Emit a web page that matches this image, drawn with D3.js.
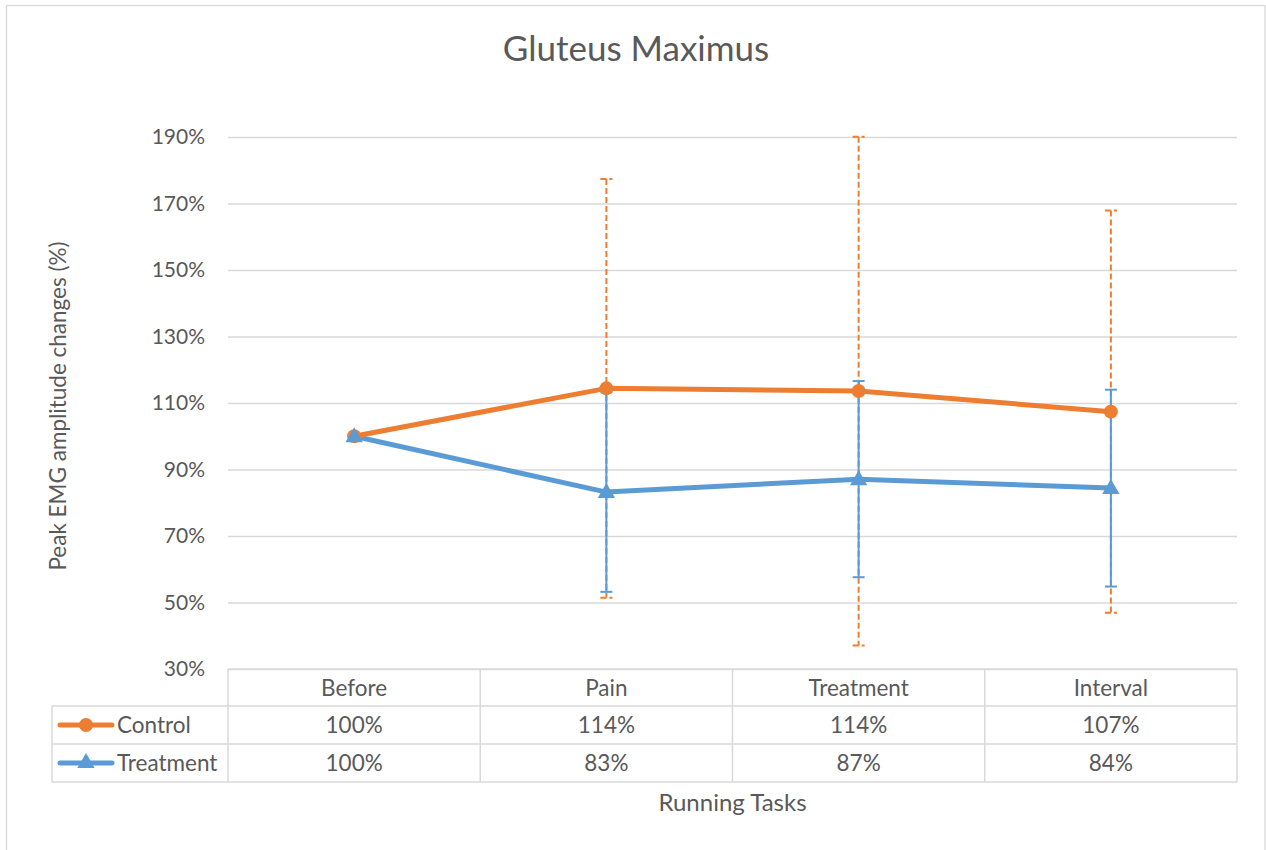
<!DOCTYPE html>
<html><head><meta charset="utf-8">
<script src="https://cdn.jsdelivr.net/npm/d3@7"></script>
<style>body{margin:0;background:#fff}svg{display:block}text{font-family:Lato,"Open Sans",sans-serif}</style>
</head><body><svg id="c" width="1266" height="850"></svg>
<script>
const categories = ["Before", "Pain", "Treatment", "Interval"];
const seriesNames = ["Control", "Treatment"];
const controlValues = [100, 114.4, 113.6, 107.4];
const treatmentValues = [100, 83.2, 87.1, 84.4];
const controlErrors = [0, 63, 76.5, 60.5];
const treatmentErrors = [0, 30, 29.5, 29.6];
const controlLabels = ["100%", "114%", "114%", "107%"];
const treatmentLabels = ["100%", "83%", "87%", "84%"];
const yTicks = [30, 50, 70, 90, 110, 130, 150, 170, 190];

const svg = d3.select("#c");
const L = 228, R = 1237, T = 137, B = 669;
const grid = "#d9d9d9", txt = "#595959";
const orange = "#ed7d31", blue = "#5b9bd5";

// outer border
svg.append("rect").attr("x", 6.5).attr("y", 5.5).attr("width", 1258.5).attr("height", 860)
  .attr("fill", "none").attr("stroke", grid).attr("stroke-width", 1.3);

const x = d3.scaleBand().domain(categories).range([L, R]);
const y = d3.scaleLinear().domain([30, 190]).range([B, T]);
const cx = c => x(c) + x.bandwidth() / 2;

// gridlines
const yAxis = d3.axisLeft(y).tickValues(yTicks).tickSize(-(R - L)).tickFormat(d => d + "%");
const ga = svg.append("g").attr("transform", `translate(${L},0)`).call(yAxis);
ga.select(".domain").remove();
ga.selectAll(".tick line").attr("stroke", grid).attr("stroke-width", 1.3);
ga.selectAll(".tick text").attr("x", -23).attr("fill", txt).attr("font-size", 21);

// title
svg.append("text").attr("x", 636).attr("y", 61).attr("text-anchor", "middle")
  .attr("fill", txt).attr("font-size", 35).text("Gluteus Maximus");

// y axis title
svg.append("text").attr("transform", `translate(66,${(T + B) / 2 + 3}) rotate(-90)`)
  .attr("text-anchor", "middle").attr("fill", txt).attr("font-size", 22.5)
  .text("Peak EMG  amplitude changes (%)");

// x axis title
svg.append("text").attr("x", (L + R) / 2).attr("y", 811).attr("text-anchor", "middle")
  .attr("fill", txt).attr("font-size", 24).text("Running Tasks");

// data table
const rowH = [669, 706, 744, 782];
const tbl = svg.append("g").attr("stroke", grid).attr("stroke-width", 1.5).attr("fill", "none");
tbl.append("line").attr("x1", L).attr("x2", R).attr("y1", rowH[0]).attr("y2", rowH[0]);
[1, 2, 3].forEach(i => tbl.append("line").attr("x1", 52).attr("x2", R).attr("y1", rowH[i]).attr("y2", rowH[i]));
tbl.append("line").attr("x1", 52).attr("x2", 52).attr("y1", rowH[1]).attr("y2", rowH[3]);
categories.forEach(c => tbl.append("line").attr("x1", x(c)).attr("x2", x(c)).attr("y1", rowH[0]).attr("y2", rowH[3]));
tbl.append("line").attr("x1", R).attr("x2", R).attr("y1", rowH[0]).attr("y2", rowH[3]);

const tf = 22.5;
categories.forEach(c => svg.append("text").attr("x", cx(c)).attr("y", 696).attr("text-anchor", "middle")
  .attr("fill", txt).attr("font-size", tf).text(c));
[controlLabels, treatmentLabels].forEach((labs, r) => {
  categories.forEach((c, i) => svg.append("text").attr("x", cx(c)).attr("y", 733 + r * 38)
    .attr("text-anchor", "middle").attr("fill", txt).attr("font-size", tf).text(labs[i]));
});
// legend keys
[[orange, "circle", seriesNames[0], 725], [blue, "tri", seriesNames[1], 763]].forEach(([col, m, name, yy]) => {
  svg.append("line").attr("x1", 60).attr("x2", 112).attr("y1", yy).attr("y2", yy)
    .attr("stroke", col).attr("stroke-width", 5).attr("stroke-linecap", "round");
  if (m === "circle") svg.append("circle").attr("cx", 86).attr("cy", yy).attr("r", 7).attr("fill", col);
  else svg.append("path").attr("d", d3.symbol(d3.symbolTriangle, 130)()).attr("transform", `translate(86,${yy})`).attr("fill", col);
  svg.append("text").attr("x", 117).attr("y", yy + 8).attr("fill", txt).attr("font-size", tf).text(name);
});

// error bars
function errBars(vals, errs, col, dashed) {
  const g = svg.append("g").attr("stroke", col).attr("stroke-width", 2);
  if (dashed) g.attr("stroke-dasharray", "6,3");
  categories.forEach((c, i) => {
    if (!errs[i]) return;
    const xx = cx(c), top = y(vals[i] + errs[i]), bot = y(vals[i] - errs[i]);
    g.append("line").attr("x1", xx).attr("x2", xx).attr("y1", top).attr("y2", bot);
    g.append("line").attr("x1", xx - 6).attr("x2", xx + 6).attr("y1", top).attr("y2", top);
    g.append("line").attr("x1", xx - 6).attr("x2", xx + 6).attr("y1", bot).attr("y2", bot);
  });
}
errBars(controlValues, controlErrors, orange, true);
errBars(treatmentValues, treatmentErrors, blue, false);

// lines
const line = d3.line().x((d, i) => cx(categories[i])).y(d => y(d));
svg.append("path").datum(treatmentValues).attr("d", line).attr("fill", "none").attr("stroke", blue)
  .attr("stroke-width", 5).attr("stroke-linejoin", "round").attr("stroke-linecap", "round");
svg.append("path").datum(controlValues).attr("d", line).attr("fill", "none").attr("stroke", orange)
  .attr("stroke-width", 5).attr("stroke-linejoin", "round").attr("stroke-linecap", "round");
// markers
controlValues.forEach((v, i) => svg.append("circle").attr("cx", cx(categories[i])).attr("cy", y(v)).attr("r", 7).attr("fill", orange));
treatmentValues.forEach((v, i) => svg.append("path").attr("d", d3.symbol(d3.symbolTriangle, 130)())
  .attr("transform", `translate(${cx(categories[i])},${y(v) + 1})`).attr("fill", blue));
</script></body></html>
